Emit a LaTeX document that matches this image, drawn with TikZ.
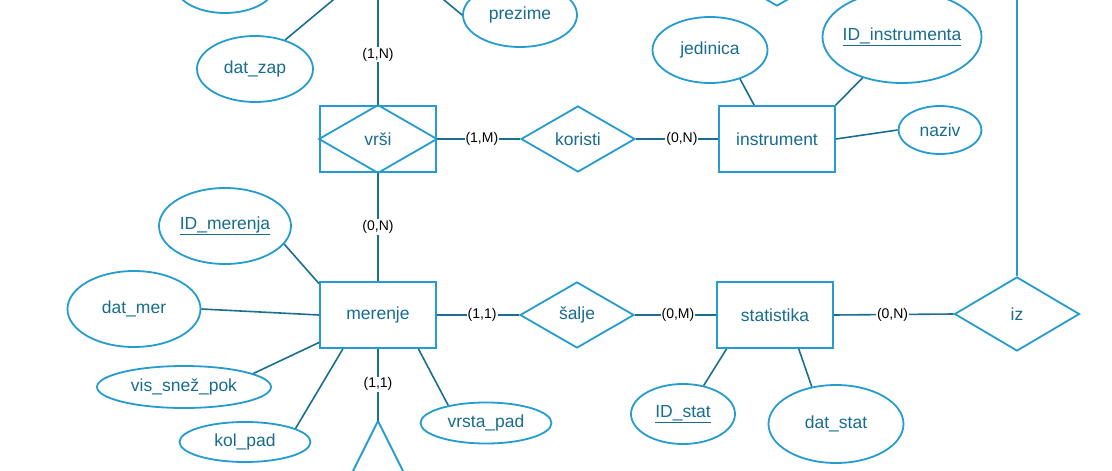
\documentclass[tikz,border=0pt]{standalone}
\usepackage{fontspec}
\setmainfont{Liberation Sans}
\usetikzlibrary{shapes.geometric}
\definecolor{shp}{HTML}{259CCF}
\definecolor{lnk}{HTML}{1A6F8E}
\definecolor{txt}{HTML}{176C8F}
\tikzset{
  lbl/.style={text=txt, font=\fontsize{17.5}{20}\selectfont},
  ent/.style={lbl, draw=shp, line width=1.8pt, rectangle, minimum width=116pt, minimum height=66pt, inner sep=0pt},
  rel/.style={lbl, draw=shp, line width=1.8pt, diamond, minimum width=114pt, minimum height=66pt, inner sep=0pt},
  attr/.style={lbl, draw=shp, line width=1.8pt, ellipse, inner sep=0pt},
  conn/.style={draw=lnk, line width=1.6pt},
  sconn/.style={draw=shp, line width=1.8pt},
  card/.style={fill=white, inner sep=1pt, text=black, font=\fontsize{14}{16}\selectfont},
}
\begin{document}
\begin{tikzpicture}[x=1pt, y=-1pt]
\useasboundingbox (0,0) rectangle (1112,471);
\clip (0,0) rectangle (1112,471);
\fill[white] (0,0) rectangle (1112,471);

% cut-off shapes at the top
\node[attr, minimum width=100pt, minimum height=56pt] (topL) at (225,-15) {};
\node[rel] (topD) at (777,-27) {};
\coordinate (top1) at (345,-10);
\coordinate (top2) at (432,-10);
\coordinate (top3) at (378,-10);
\coordinate (top4) at (1017,-10);

% entities and relationships
\node[ent] (vrsi) at (378,139) {vrši};
\draw[draw=shp, line width=1.8pt] (vrsi.north) -- (vrsi.east) -- (vrsi.south) -- (vrsi.west) -- cycle;
\node[rel] (koristi) at (578,139) {koristi};
\node[ent] (instrument) at (777,139) {instrument};
\node[ent] (merenje) at (378,315) {merenje};
\node[rel] (salje) at (577,315) {šalje};
\node[ent] (statistika) at (775,315) {statistika};
\node[rel, minimum width=125pt, minimum height=74pt] (iz) at (1017,314) {iz};
\coordinate (isa) at (378,421);
\draw[sconn] ([shift={(-50,100)}]isa) -- (isa) -- ([shift={(50,100)}]isa);

% attributes
\node[attr, minimum width=116pt, minimum height=66pt] (datzap) at (255,69) {dat\_zap};
\node[attr, minimum width=114pt, minimum height=64pt] (prezime) at (520,15) {prezime};
\node[attr, minimum width=115pt, minimum height=66pt] (jedinica) at (710,50) {jedinica};
\node[attr, minimum width=159pt, minimum height=92pt] (idinstr) at (902,37) {\makebox[0pt]{\underline{ID\_instrumenta}}};
\node[attr, minimum width=83pt, minimum height=48pt] (naziv) at (940,130) {naziv};
\node[attr, minimum width=132pt, minimum height=76pt] (idmer) at (225,226) {\underline{ID\_merenja}};
\node[attr, minimum width=133pt, minimum height=76pt] (datmer) at (134,309) {dat\_mer};
\node[attr, minimum width=174pt, minimum height=42pt] (vissnez) at (184,387) {vis\_snež\_pok};
\node[attr, minimum width=131pt, minimum height=40pt] (kolpad) at (245,442) {kol\_pad};
\node[attr, minimum width=131pt, minimum height=41pt] (vrstapad) at (486,423) {vrsta\_pad};
\node[attr, minimum width=104pt, minimum height=60pt] (idstat) at (683,414) {\underline{ID\_stat}};
\node[attr, minimum width=135pt, minimum height=78pt] (datstat) at (836,424) {dat\_stat};

% relationship connectors
\draw[conn] (top3) -- node[card, pos=0.56] {(1,N)} (vrsi.north);
\draw[conn] (vrsi.east) -- node[card, pos=0.54] {(1,M)} (koristi.west);
\draw[conn] (koristi.east) -- node[card, pos=0.56] {(0,N)} (instrument.west);
\draw[conn] (vrsi.south) -- node[card, pos=0.5] {(0,N)} (merenje.north);
\draw[conn] (merenje.east) -- node[card, pos=0.55] {(1,1)} (salje.west);
\draw[conn] (salje.east) -- node[card, pos=0.53] {(0,M)} (statistika.west);
\draw[conn] (statistika.east) -- node[card, pos=0.49] {(0,N)} (iz.west);
\draw[conn] (merenje.south) -- node[card, pos=0.49] {(1,1)} (isa);
\draw[sconn] (top4) -- (iz.north);

% attribute connectors
\draw[conn] (top1) -- (datzap.44);
\draw[conn] (top2) -- (prezime.west);
\draw[conn] (jedinica.-44) -- (instrument.124);
\draw[conn] (idinstr.-134) -- (instrument.30);
\draw[conn] (instrument.east) -- (naziv.west);
\draw[conn] (idmer.-17) -- (merenje.152);
\draw[conn] (datmer.east) -- (merenje.west);
\draw[conn] (vissnez.11) -- (merenje.-155);
\draw[conn] (kolpad.15) -- (merenje.-136);
\draw[conn] (vrstapad.155) -- (merenje.-40);
\draw[conn] (idstat.54) -- (statistika.-145);
\draw[conn] (datstat.123) -- (statistika.-55);
\end{tikzpicture}
\end{document}
